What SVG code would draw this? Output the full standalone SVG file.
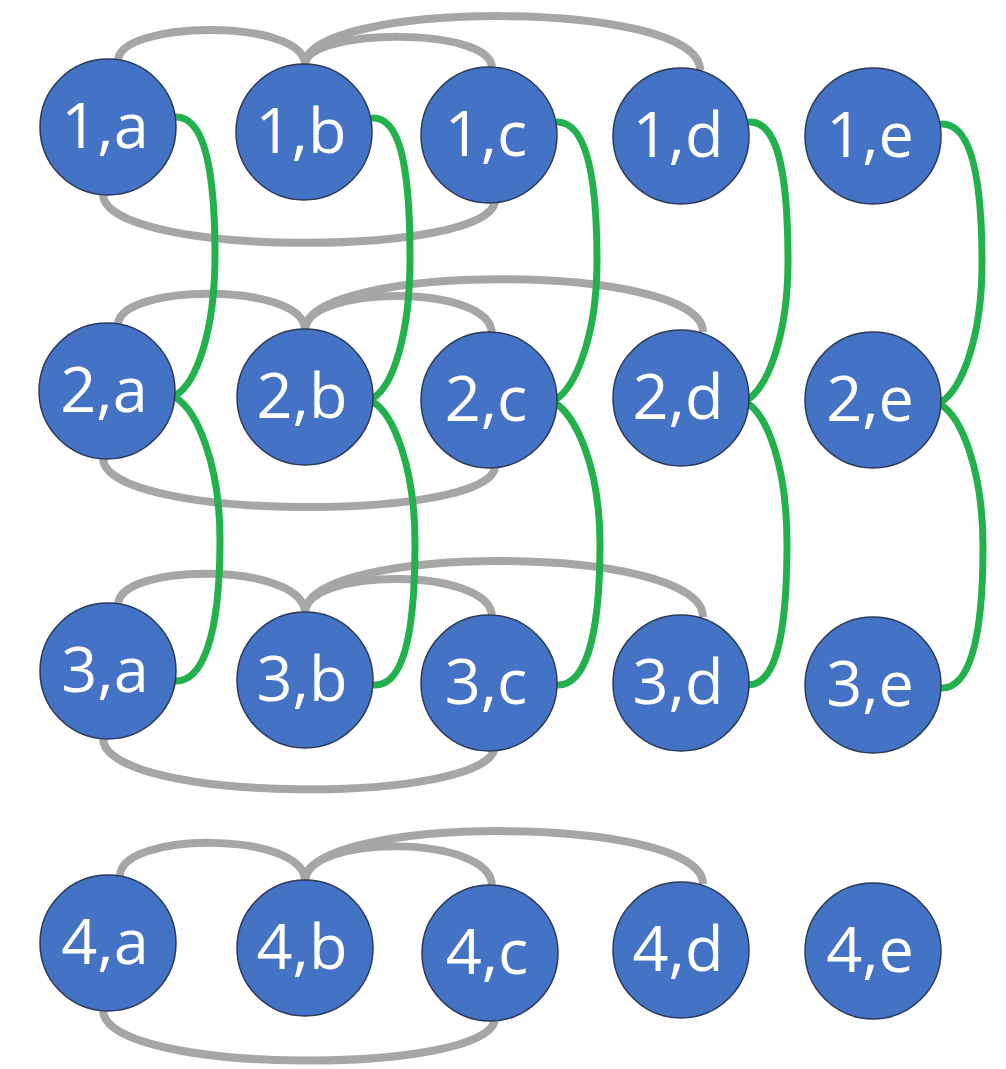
<svg xmlns="http://www.w3.org/2000/svg" width="1006" height="1069" viewBox="0 0 1006 1069">
<style>
.g{fill:none;stroke:#A6A6A6;stroke-width:8}
.v{fill:none;stroke:#22B14C;stroke-width:7;stroke-linecap:round}
.n circle{fill:#4472C4;stroke:#2B3A57;stroke-width:1.5}
.n text{fill:#fff;font-family:"Open Sans","Liberation Sans",sans-serif;font-size:63px;text-anchor:middle}
</style>
<rect width="1006" height="1069" fill="#fff"/>
<g id="connectors">
<path class="g" d="M118 61 C118 20 305 18 305 65"/>
<path class="g" d="M305 65 C305 28 492 26 492 68"/>
<path class="g" d="M305 65 C305 0 700 -2 700 70"/>
<path class="g" d="M103 194 C103 258 495 258 495 200"/>
<path class="g" d="M118 325 C118 283 305 282 305 330"/>
<path class="g" d="M305 330 C305 285 492 283 492 334"/>
<path class="g" d="M305 330 C305 262 703 262 703 332"/>
<path class="g" d="M103 458 C103 522 495 522 495 466"/>
<path class="g" d="M118 605 C118 562 305 562 305 613"/>
<path class="g" d="M305 613 C305 567 492 567 492 617"/>
<path class="g" d="M305 613 C305 543 703 543 703 617"/>
<path class="g" d="M103 738 C103 805 495 805 495 746"/>
<path class="g" d="M120 876 C120 831 305 831 305 881"/>
<path class="g" d="M305 881 C305 834 492 834 492 886"/>
<path class="g" d="M305 881 C305 814 703 814 703 884"/>
<path class="g" d="M103 1010 C103 1076 495 1076 495 1018"/>
<path class="v" d="M176 117 C201 117 215 157 215 256 C215 332 196 383 176 395"/>
<path class="v" d="M176 398 C196 410 220 462 220 540 C220 641 201 681 176 681"/>
<path class="v" d="M373 118 C398 118 410 158 410 258 C410 335 393 386 373 398"/>
<path class="v" d="M373 402 C393 414 415 466 415 544 C415 645 400 685 375 685"/>
<path class="v" d="M557 122 C582 122 597 162 597 261 C597 337 575 388 555 400"/>
<path class="v" d="M555 403 C575 415 600 466 600 544 C600 645 583 685 558 685"/>
<path class="v" d="M750 122 C775 122 788 162 788 261 C788 337 767 388 747 400"/>
<path class="v" d="M747 403 C767 415 787 466 787 544 C787 645 773 685 748 685"/>
<path class="v" d="M942 124 C967 124 982 164 982 263 C982 339 961 390 941 402"/>
<path class="v" d="M941 405 C961 417 983 469 983 547 C983 648 967 688 942 688"/>
</g>
<g id="n1a" class="n"><circle cx="108" cy="127" r="68"/><text x="105" y="148">1,a</text></g>
<g id="n1b" class="n"><circle cx="304" cy="132" r="68"/><text x="301" y="153">1,b</text></g>
<g id="n1c" class="n"><circle cx="489" cy="135" r="68"/><text x="486" y="156">1,c</text></g>
<g id="n1d" class="n"><circle cx="681" cy="136" r="68"/><text x="678" y="157">1,d</text></g>
<g id="n1e" class="n"><circle cx="873" cy="136" r="68"/><text x="870" y="157">1,e</text></g>
<g id="n2a" class="n"><circle cx="107" cy="391" r="68"/><text x="104" y="412">2,a</text></g>
<g id="n2b" class="n"><circle cx="305" cy="397" r="68"/><text x="302" y="418">2,b</text></g>
<g id="n2c" class="n"><circle cx="489" cy="400" r="68"/><text x="486" y="421">2,c</text></g>
<g id="n2d" class="n"><circle cx="681" cy="398" r="68"/><text x="678" y="419">2,d</text></g>
<g id="n2e" class="n"><circle cx="873" cy="400" r="68"/><text x="870" y="421">2,e</text></g>
<g id="n3a" class="n"><circle cx="108" cy="671" r="68"/><text x="105" y="692">3,a</text></g>
<g id="n3b" class="n"><circle cx="305" cy="680" r="68"/><text x="302" y="701">3,b</text></g>
<g id="n3c" class="n"><circle cx="489" cy="683" r="68"/><text x="486" y="704">3,c</text></g>
<g id="n3d" class="n"><circle cx="681" cy="683" r="68"/><text x="678" y="704">3,d</text></g>
<g id="n3e" class="n"><circle cx="873" cy="685" r="68"/><text x="870" y="706">3,e</text></g>
<g id="n4a" class="n"><circle cx="108" cy="943" r="68"/><text x="105" y="964">4,a</text></g>
<g id="n4b" class="n"><circle cx="305" cy="948" r="68"/><text x="302" y="969">4,b</text></g>
<g id="n4c" class="n"><circle cx="490" cy="953" r="68"/><text x="487" y="974">4,c</text></g>
<g id="n4d" class="n"><circle cx="681" cy="950" r="68"/><text x="678" y="971">4,d</text></g>
<g id="n4e" class="n"><circle cx="873" cy="951" r="68"/><text x="870" y="972">4,e</text></g>
</svg>
